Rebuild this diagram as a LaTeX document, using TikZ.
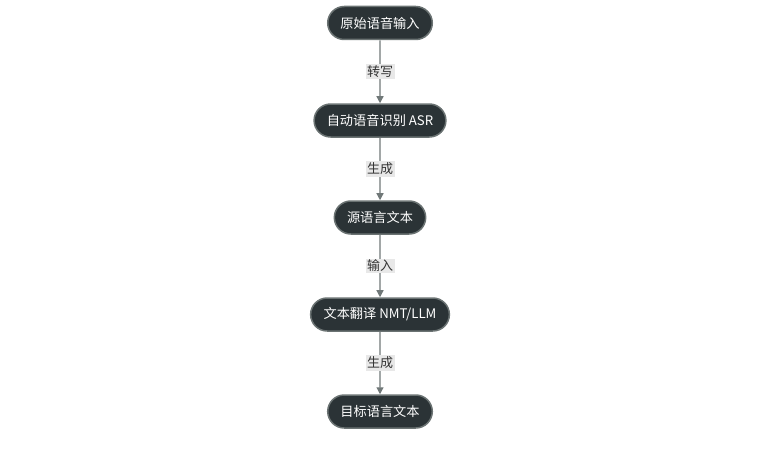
\documentclass[tikz,border=0pt]{standalone}
\usepackage{fontspec}
\setmainfont{Noto Sans CJK SC}
\usetikzlibrary{arrows.meta,shapes.misc}
\definecolor{nodefill}{HTML}{2B3336}
\definecolor{nodeline}{HTML}{6B7373}
\definecolor{edgecol}{HTML}{707878}
\definecolor{lblbg}{HTML}{E8E8E8}
\definecolor{lbltxt}{HTML}{333333}
\tikzset{
  stepbox/.style={rounded rectangle, fill=nodefill, draw=nodeline, line width=1.5pt,
    text=white, font=\fontsize{13.2}{15}\selectfont, minimum height=33pt, inner xsep=11.5pt, inner ysep=0pt},
  flow/.style={draw=edgecol, line width=1.2pt, -{Triangle[length=7pt,width=7pt]}},
  lbl/.style={fill=lblbg, text=lbltxt, font=\fontsize{13}{15}\selectfont, inner sep=1.5pt}
}
\begin{document}
\begin{tikzpicture}[x=1pt,y=1pt]
\useasboundingbox (0,0) rectangle (760,451);
\node[stepbox] (n1) at (380,428) {原始语音输入};
\node[stepbox] (n2) at (380,330.5) {自动语音识别 ASR};
\node[stepbox] (n3) at (380,233.5) {源语言文本};
\node[stepbox] (n4) at (380,136.5) {文本翻译 NMT/LLM};
\node[stepbox] (n5) at (380,39.5) {目标语言文本};
\draw[flow] (n1) -- node[lbl] {转写} (n2);
\draw[flow] (n2) -- node[lbl] {生成} (n3);
\draw[flow] (n3) -- node[lbl] {输入} (n4);
\draw[flow] (n4) -- node[lbl] {生成} (n5);
\end{tikzpicture}
\end{document}
